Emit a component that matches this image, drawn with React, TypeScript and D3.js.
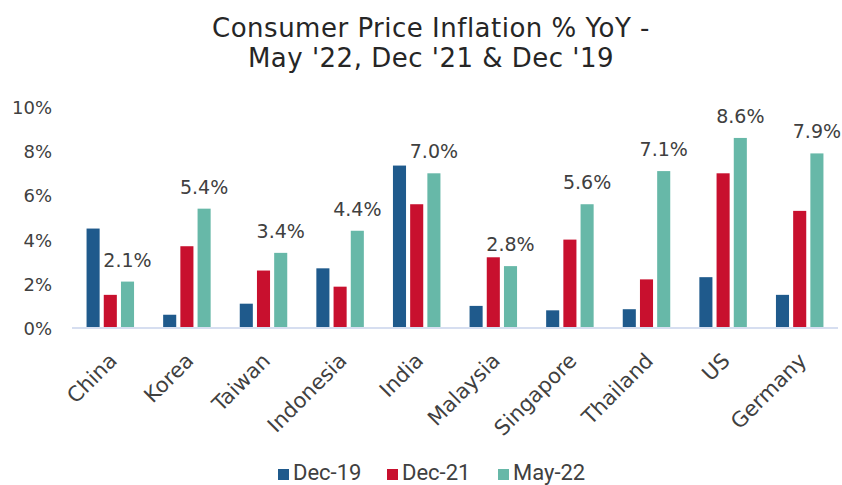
import React from "react";
import * as d3 from "d3";

const categories = ["China", "Korea", "Taiwan", "Indonesia", "India", "Malaysia", "Singapore", "Thailand", "US", "Germany"];
const seriesNames = ["Dec-19", "Dec-21", "May-22"];
const dec19 = [4.5, 0.6, 1.1, 2.7, 7.35, 1.0, 0.8, 0.85, 2.3, 1.5];
const dec21 = [1.5, 3.7, 2.6, 1.87, 5.6, 3.2, 4.0, 2.2, 7.0, 5.3];
const may22 = [2.1, 5.4, 3.4, 4.4, 7.0, 2.8, 5.6, 7.1, 8.6, 7.9];
const colors = ["#1F5A8C", "#C8102E", "#67B8A8"];
const yTicks = [0, 2, 4, 6, 8, 10];
const titleLines = ["Consumer Price Inflation % YoY -", "May '22, Dec '21 & Dec '19"];

const W = 842;
const H = 485;
const FONT = "DejaVu Sans";

export default function App() {
  const seriesValues = [dec19, dec21, may22];
  const x0 = d3.scaleBand<string>().domain(categories).range([72, 838]).paddingInner(0.38).paddingOuter(0.19);
  const x1 = d3.scaleBand<string>().domain(seriesNames).range([0, x0.bandwidth()]).paddingInner(0.24);
  const y = d3.scaleLinear().domain([0, 10]).range([328, 107]);

  return (
    <svg width={W} height={H} style={{ position: "absolute", left: 0, top: 0, background: "#fff" }}>
      <rect width={W} height={H} fill="#fff" />
      {titleLines.map((t, i) => (
        <text key={i} x={431} y={37 + i * 30} textAnchor="middle" style={{ fontFamily: FONT, letterSpacing: "0.5px" }} fontSize={26} fill="#262626">
          {t}
        </text>
      ))}
      {yTicks.map((t) => (
        <text key={t} x={52} y={y(t) + 7} textAnchor="end" style={{ fontFamily: FONT }} fontSize={18} fill="#404040">
          {t}%
        </text>
      ))}
      {categories.map((c, ci) => (
        <g key={c} transform={`translate(${x0(c)},0)`}>
          {seriesNames.map((s, si) => {
            const v = seriesValues[si][ci];
            return (
              <rect key={s} x={x1(s)} y={y(v)} width={x1.bandwidth()} height={y(0) - y(v)} fill={colors[si]} />
            );
          })}
          <text
            x={(x1("May-22") as number) + x1.bandwidth() / 2}
            y={y(may22[ci]) - 15}
            textAnchor="middle"
            style={{ fontFamily: FONT }}
            fontSize={19}
            fill="#404040"
          >
            {may22[ci].toFixed(1)}%
          </text>
        </g>
      ))}
      <line x1={72} x2={838} y1={y(0)} y2={y(0)} stroke="#D6DEF0" strokeWidth={2} />
      {categories.map((c) => {
        const cx = (x0(c) as number) + x0.bandwidth() / 2 + 8;
        const cy = 362;
        return (
          <text key={c} transform={`translate(${cx},${cy}) rotate(-45)`} textAnchor="end" style={{ fontFamily: FONT }} fontSize={21} fill="#404040">
            {c}
          </text>
        );
      })}
      {seriesNames.map((s, i) => {
        const lx = [278, 387, 498][i];
        return (
          <g key={s}>
            <rect x={lx} y={469} width={11} height={11} fill={colors[i]} />
            <text x={lx + 15} y={480} style={{ fontFamily: "Roboto, sans-serif" }} fontSize={22} fill="#404040">
              {s}
            </text>
          </g>
        );
      })}
    </svg>
  );
}
